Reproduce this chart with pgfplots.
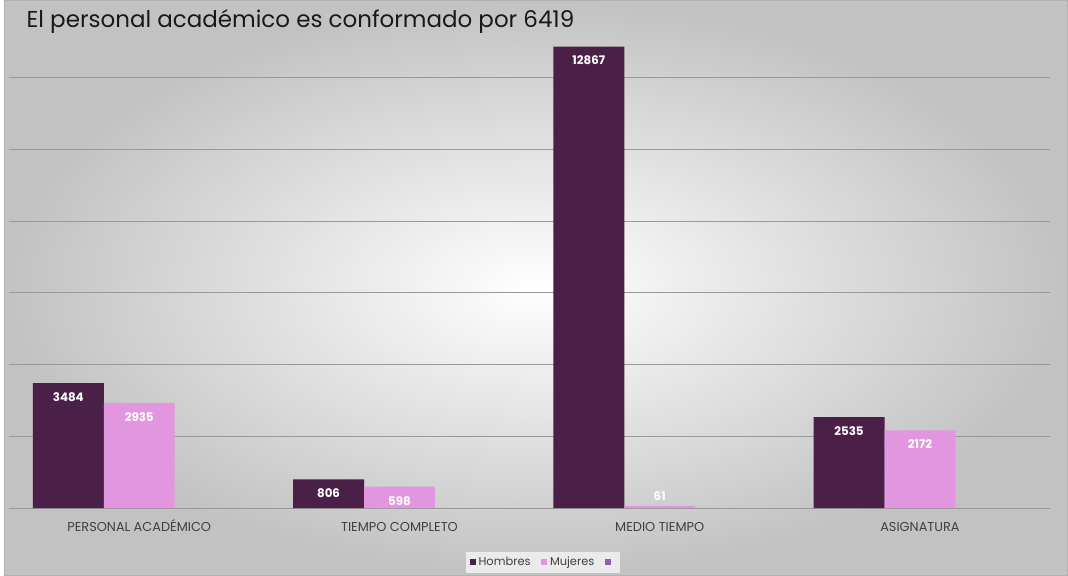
\documentclass[border=0pt]{standalone}
\usepackage{fontspec}
\setmainfont{Poppins}
\usepackage{pgfplots}
\pgfplotsset{compat=1.18}
\definecolor{hombres}{RGB}{74,32,73}
\definecolor{mujeres}{RGB}{227,150,224}
\definecolor{tercera}{RGB}{142,92,190}
\definecolor{ejes}{RGB}{64,64,64}

\begin{document}
\begin{tikzpicture}
% fondo con degradado, como en la diapositiva
\shade[inner color=white, outer color=black!24] (0pt,0pt) rectangle (801pt,433.5pt);
\draw[black!30, line width=0.8pt] (0.4pt,0.4pt) rectangle (800.6pt,433.1pt);
\begin{axis}[
    at={(4pt,51pt)}, anchor=south west,
    scale only axis, width=783.5pt, height=378pt,
    xmin=-0.5, xmax=3.5, ymin=0, ymax=14000,
    ybar, bar width=0.2725,
    scaled y ticks=false,
    /pgf/number format/.cd, 1000 sep={}, assume math mode=true, /pgfplots/.cd,
    axis line style={draw=none},
    tick style={draw=none},
    ytick={2000,4000,...,12000}, yticklabels={},
    ymajorgrids, major grid style={black!40, line width=0.7pt},
    extra y ticks={0}, extra y tick labels={},
    extra y tick style={grid style={ejes, line width=1.6pt}},
    xtick={0,1,2,3},
    xticklabels={PERSONAL ACADÉMICO, TIEMPO COMPLETO, MEDIO TIEMPO, ASIGNATURA},
    xticklabel style={anchor=base, yshift=-13.5pt, text=ejes, font=\fontsize{9.7}{12}\selectfont},
    title={El personal académico es conformado por 6419},
    title style={at={(axis description cs:0.0166,0.9405)}, anchor=base west, inner sep=0pt,
        yshift=0pt, font=\fontsize{17.3}{20}\selectfont, text=black!90},
    legend columns=3,
    legend style={at={(0.513,-0.108)}, anchor=center, fill=black!8, draw=none,
        font=\fontsize{8.6}{10}\selectfont, text=ejes,
        /tikz/every even column/.append style={column sep=6pt}},
    legend image code/.code={\fill[#1] (0pt,-2.3pt) rectangle (4.6pt,2.3pt);},
    nodes near coords,
    visualization depends on={y \as \rawy},
    every node near coord/.append style={font=\bfseries\fontsize{8.9}{10}\selectfont,
        text=white, anchor=center, yshift={ifthenelse(\rawy<500,7.5,-10.5)}},
]
\addplot[fill=hombres, draw=none, bar shift=-0.2725]
    coordinates {(0,3484) (1,806) (2,12867) (3,2535)};
\addlegendentry{Hombres}
\addplot[fill=mujeres, draw=none, bar shift=0]
    coordinates {(0,2935) (1,598) (2,61) (3,2172)};
\addlegendentry{Mujeres}
\addlegendimage{fill=tercera, draw=none}
\addlegendentry{}
\end{axis}
\end{tikzpicture}
\end{document}
